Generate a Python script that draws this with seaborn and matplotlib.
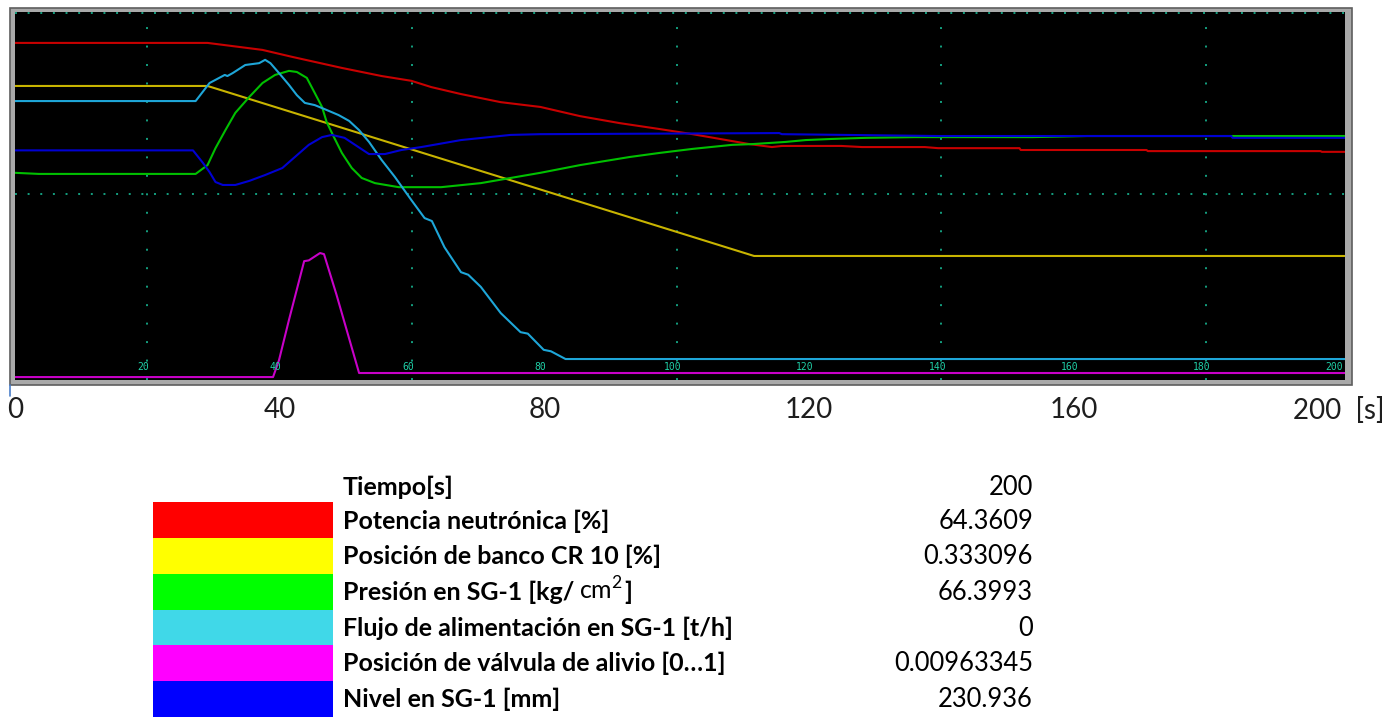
import numpy as np
import pandas as pd
import matplotlib
matplotlib.use("Agg")
import matplotlib.pyplot as plt
from matplotlib.patches import Rectangle
from matplotlib.lines import Line2D
import seaborn as sns

W, H = 1392, 717

# series (time [s], height in % of the plot area)
t_potencia = [0, 29.1, 37.4, 41.9, 49.4, 55.4, 59.9, 62.9, 67.4, 73.4, 79.4, 85.4, 91.4, 97.4,
              102.4, 107.5, 111.0, 114.4, 115.9, 124.9, 128.0, 137.5, 139.5, 151.8, 152.0,
              171.0, 171.2, 197.3, 197.5, 201]
v_potencia = [91.6, 91.6, 89.7, 87.8, 84.8, 82.6, 81.3, 79.6, 77.7, 75.5, 74.2, 71.7, 69.8, 68.2,
              66.8, 65.2, 64.1, 63.3, 63.6, 63.6, 63.3, 63.3, 63.0, 63.0, 62.5,
              62.5, 62.2, 62.2, 62.0, 62.0]

t_banco = [0, 29.1, 111.7, 201]
v_banco = [79.9, 79.9, 33.7, 33.7]

t_presion = [0, 3.6, 27.3, 29.1, 30.3, 31.8, 33.3, 35.4, 37.4, 39.3, 41.4, 42.6, 44.1, 45.3,
             46.4, 47.1, 48.2, 49.4, 50.9, 52.4, 54.4, 58.0, 61.4, 64.4, 70.4, 74.9, 79.4,
             85.4, 92.9, 97.4, 102.4, 108.4, 111.4, 116.5, 119.5, 123.4, 128.5, 136.0, 153.8,
             162.0, 201]
v_presion = [56.3, 56.0, 56.0, 58.4, 63.0, 67.9, 72.6, 76.9, 80.7, 82.9, 84.0, 83.7, 82.1, 78.0,
             74.2, 70.1, 66.0, 61.7, 57.6, 54.9, 53.5, 52.4, 52.4, 52.4, 53.5, 54.9, 56.3,
             58.4, 60.6, 61.7, 62.8, 63.9, 64.1, 64.7, 65.2, 65.5, 65.8, 66.0, 66.0,
             66.3, 66.3]

t_flujo = [0, 27.3, 29.4, 31.7, 32.1, 32.9, 34.8, 36.9, 37.8, 38.6, 39.9, 41.4, 42.6, 43.8,
           45.3, 46.8, 48.9, 50.5, 52.0, 53.5, 55.4, 57.4, 59.9, 61.9, 63.0, 64.9, 67.4, 68.5,
           70.4, 73.4, 76.4, 77.5, 79.9, 81.0, 83.2, 201]
v_flujo = [75.8, 75.8, 80.7, 82.9, 82.6, 83.4, 85.6, 86.1, 87.0, 86.1, 83.4, 80.2, 77.4, 75.3,
           74.7, 73.6, 72.0, 70.4, 67.9, 64.7, 59.8, 55.2, 48.9, 44.0, 43.2, 36.1, 29.3, 28.6,
           25.3, 18.2, 13.0, 12.6, 8.2, 7.8, 5.7, 5.7]

t_valvula = [0, 39.0, 39.9, 41.4, 43.7, 44.4, 46.1, 46.7, 48.6, 52.0, 201]
v_valvula = [0.8, 0.8, 5.4, 16.3, 32.3, 32.5, 34.5, 34.2, 23.1, 1.9, 1.9]

t_nivel = [0, 26.9, 28.4, 29.4, 30.3, 31.4, 33.3, 35.4, 37.8, 40.4, 42.3, 44.4, 46.4, 47.9,
           49.8, 51.9, 53.5, 55.9, 58.4, 61.4, 67.4, 74.9, 79.4, 115.5, 115.9, 139.5, 183.8,
           184.0, 201]
v_nivel = [62.4, 62.4, 59.0, 56.5, 53.8, 53.0, 53.0, 54.1, 55.7, 57.6, 60.6, 63.9, 66.0, 66.6,
           65.8, 63.3, 61.4, 61.4, 62.5, 63.3, 65.2, 66.6, 66.8, 67.1, 66.8, 66.3, 66.3,
           65.8, 65.8]

series = ["potencia", "banco", "presion", "flujo", "valvula", "nivel"]
line_colors = ["#c80000", "#c8b400", "#00c000", "#1ea6d8", "#c800c8", "#0000d2"]
swatch_colors = ["#ff0000", "#ffff00", "#00ff00", "#40d8e8", "#ff00ff", "#0000ff"]

row_labels = ["Tiempo[s]", "Potencia neutrónica [%]", "Posición de banco CR 10 [%]",
              "Presión en SG-1 [kg/", "Flujo de alimentación en SG-1 [t/h]",
              "Posición de válvula de alivio [0…1]", "Nivel en SG-1 [mm]"]
row_values = ["200", "64.3609", "0.333096", "66.3993", "0", "0.00963345", "230.936"]

x_ticks = [0, 40, 80, 120, 160, 200]
x_ticklabels = ["0", "40", "80", "120", "160", "200  [s]"]
inner_ticks = [20, 40, 60, 80, 100, 120, 140, 160, 180, 200]

frames = []
for name, t, v in zip(series,
                      [t_potencia, t_banco, t_presion, t_flujo, t_valvula, t_nivel],
                      [v_potencia, v_banco, v_presion, v_flujo, v_valvula, v_nivel]):
    frames.append(pd.DataFrame({"t": t, "v": v, "serie": name}))
df = pd.concat(frames, ignore_index=True)

sns.set_theme(style="dark")
plt.rcParams["font.family"] = ["Lato", "DejaVu Sans"]

fig = plt.figure(figsize=(W / 100, H / 100), dpi=100)
fig.patch.set_facecolor("white")


def fx(px):
    return px / W


def fy(py):
    return 1 - py / H


# grey frame of the trend window
fig.add_artist(Rectangle((fx(10), fy(385)), fx(1352) - fx(10), fy(8) - fy(385),
                         transform=fig.transFigure, facecolor="#a9a9a9",
                         edgecolor="#5e5e5e", lw=1.2, zorder=0))

ax = fig.add_axes([fx(15), fy(380), fx(1345) - fx(15), fy(12) - fy(380)])
ax.set_facecolor("black")

sns.lineplot(data=df, x="t", y="v", hue="serie", palette=dict(zip(series, line_colors)),
             estimator=None, sort=False, legend=False, linewidth=1.5, ax=ax)

ax.set_xlim(0.5, 201)
ax.set_ylim(0, 100)
ax.set_xlabel("")
ax.set_ylabel("")
ax.set_yticks([])
for s in ax.spines.values():
    s.set_visible(False)

# dotted grid like the original display
grid_color = "#14a080"
ax.set_xticks(inner_ticks, minor=True)
ax.grid(False)
ax.grid(which="minor", axis="x", color=grid_color, linestyle=(0, (1, 8.5)), linewidth=1.4)
for yg in [50.5, 99.6]:
    ax.axhline(yg, color=grid_color, linestyle=(0, (1, 5.5)), linewidth=1.4, zorder=0.5)
ax.tick_params(which="minor", length=0)
for xt in inner_ticks:
    ax.text(xt - 0.6, 3.4, str(xt), color="#20d0a8", fontsize=7, ha="center", va="center",
            family="DejaVu Sans Mono", stretch="condensed")

ax.set_xticks(x_ticks)
ax.set_xticklabels(x_ticklabels, fontsize=20, color="#1e1e1e")
ax.tick_params(axis="x", which="major", length=0, pad=12)

fig.add_artist(Line2D([fx(10), fx(10)], [fy(385), fy(396)], transform=fig.transFigure,
                      color="#4a7ec8", lw=1.2))

# table of current values
row_y = [487, 521, 556, 592, 628, 663, 699]
swatch_edges = [502, 538, 574, 610, 645, 681, 717]
for i, c in enumerate(swatch_colors):
    y0, y1 = swatch_edges[i], swatch_edges[i + 1]
    fig.add_artist(Rectangle((fx(153), fy(y1)), fx(333) - fx(153), fy(y0) - fy(y1),
                             transform=fig.transFigure, facecolor=c, edgecolor="none"))

fs_lab, fs_val = 18, 18.4
fig.canvas.draw()
renderer = fig.canvas.get_renderer()
for i, (lab, val) in enumerate(zip(row_labels, row_values)):
    yy = fy(row_y[i] + 8)
    t1 = fig.text(fx(343), yy, lab, fontsize=fs_lab, weight="bold", color="black",
                  va="baseline")
    if i == 3:
        w1 = t1.get_window_extent(renderer).width
        t2 = fig.text(fx(343 + w1 + 5), yy, r"cm$^\mathregular{2}$", fontsize=fs_lab,
                      color="black", va="baseline")
        w2 = t2.get_window_extent(renderer).width
        fig.text(fx(343 + w1 + 5 + w2 + 1), yy, "]", fontsize=fs_lab, weight="bold",
                 color="black", va="baseline")
    fig.text(fx(1033), yy, val, fontsize=fs_val, color="black", ha="right", va="baseline")

fig.savefig("out.png", dpi=100, facecolor="white")
